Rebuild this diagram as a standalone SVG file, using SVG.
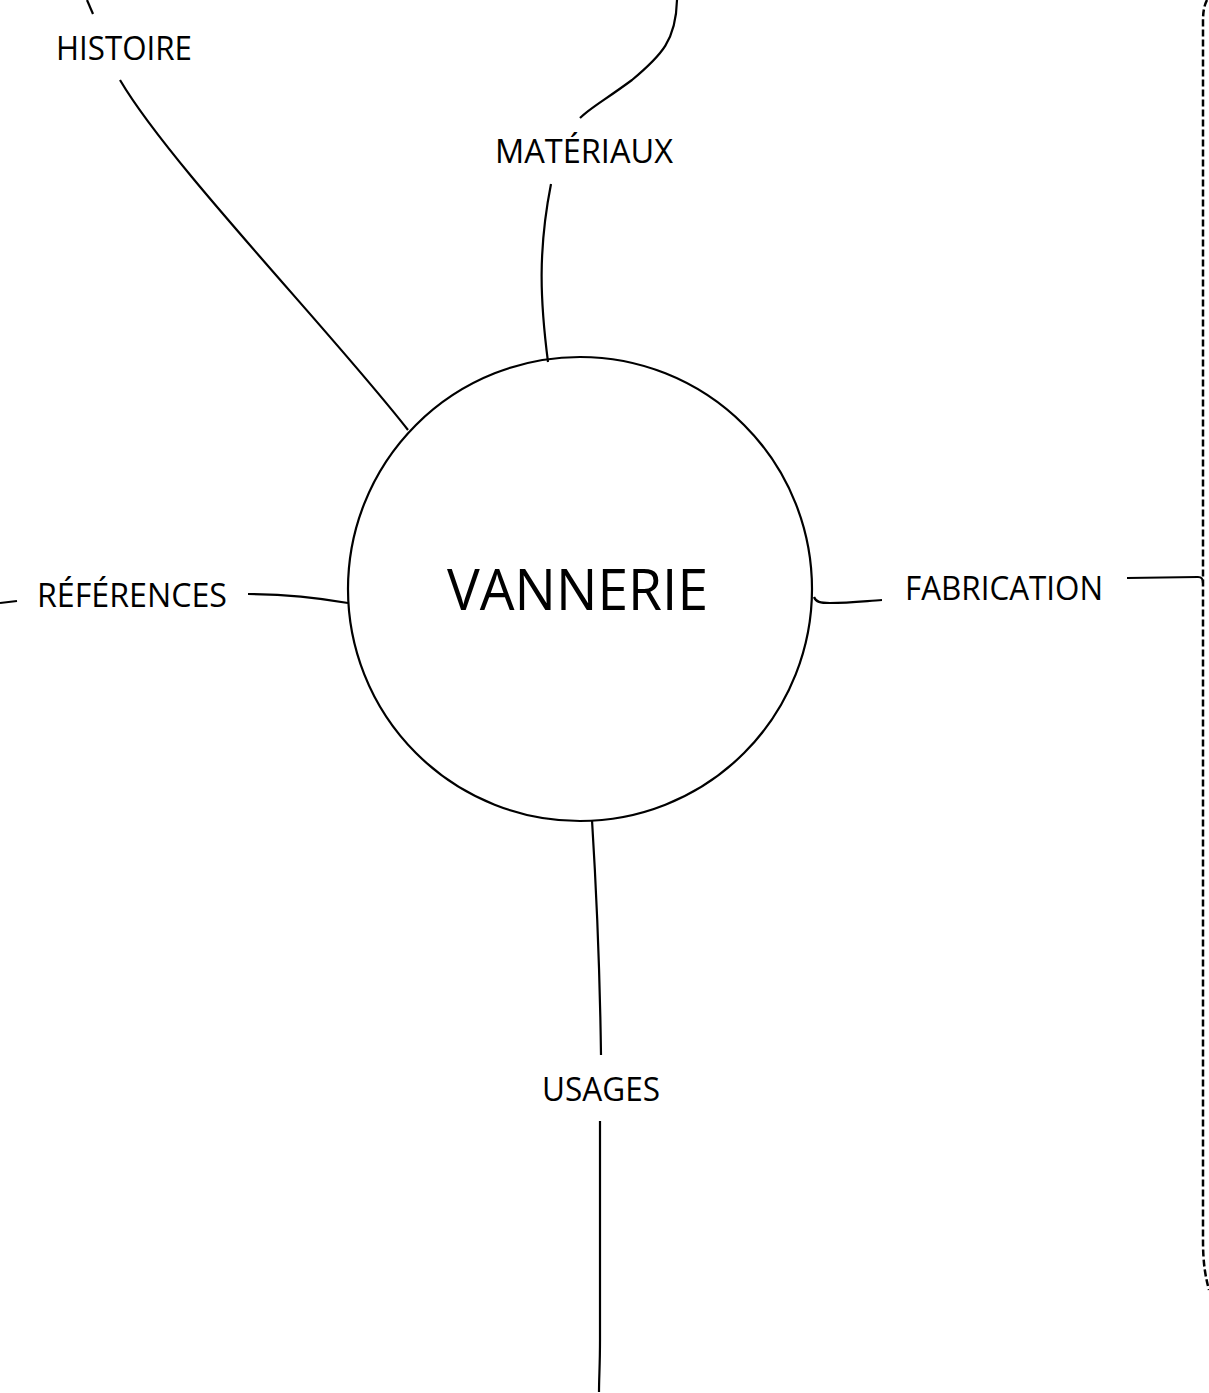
<svg xmlns="http://www.w3.org/2000/svg" width="1209" height="1393" viewBox="0 0 1209 1393">
<style>
.c{fill:none;stroke:#000;stroke-width:2.2;stroke-linecap:butt}
.d{fill:none;stroke:#000;stroke-width:2.5;stroke-dasharray:7 3}
.t{font-family:"Open Sans","Liberation Sans",sans-serif;font-size:32px;fill:#000}
.big{font-family:"Open Sans","Liberation Sans",sans-serif;font-size:56px;fill:#000}
</style>
<rect width="1209" height="1393" fill="#fff"/>
<g id="connectors">
<path class="c" d="M87,0 L93,14"/>
<path class="c" d="M120,80 C170,165 330,330 408,430"/>
<path class="c" d="M677,0 C676,40 662,55 632,80 C605,100 590,108 580,118"/>
<path class="c" d="M551,184 C538,250 540,300 548,362"/>
<path class="c" d="M0,603 L17,601"/>
<path class="c" d="M248,594 C290,594 320,598 348,603"/>
<path class="c" d="M814,597 C816,602 820,603 830,603 C850,603 866,601 882,600"/>
<path class="c" d="M1127,578 L1198,577 C1202,577 1203,579 1203,583"/>
<path class="c" d="M592,820 C597,900 600,980 601,1055"/>
<path class="c" d="M600,1121 L600,1340 C600,1365 599,1378 599,1392"/>
</g>
<g id="frame">
<path class="d" d="M1207,0 C1204,6 1203,12 1203,22 L1203,1240 C1203,1262 1205,1275 1209,1290"/>
</g>
<g id="node-vannerie">
<circle cx="580" cy="589" r="232" fill="none" stroke="#000" stroke-width="2.2"/>
<text class="big" x="447" y="610" textLength="261" lengthAdjust="spacingAndGlyphs">VANNERIE</text>
</g>
<g id="node-histoire"><text class="t" x="56" y="60" textLength="136" lengthAdjust="spacingAndGlyphs">HISTOIRE</text></g>
<g id="node-materiaux"><text class="t" x="495" y="163" textLength="178" lengthAdjust="spacingAndGlyphs">MATÉRIAUX</text></g>
<g id="node-references"><text class="t" x="37" y="607" textLength="190" lengthAdjust="spacingAndGlyphs">RÉFÉRENCES</text></g>
<g id="node-fabrication"><text class="t" x="905" y="600" textLength="198" lengthAdjust="spacingAndGlyphs">FABRICATION</text></g>
<g id="node-usages"><text class="t" x="542" y="1101" textLength="118" lengthAdjust="spacingAndGlyphs">USAGES</text></g>
</svg>
